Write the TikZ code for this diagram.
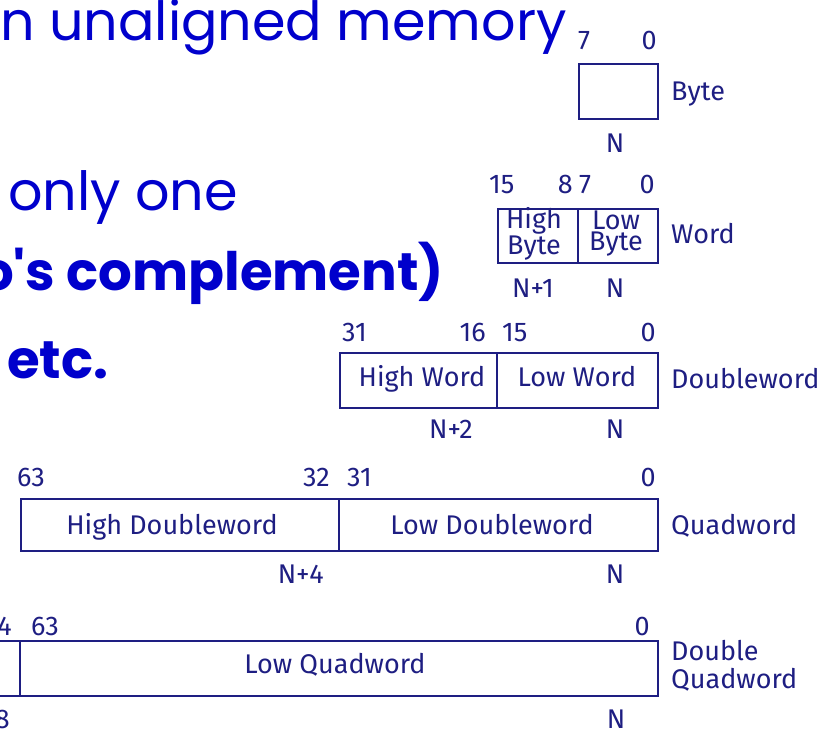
\documentclass[tikz,border=0pt]{standalone}
\usepackage{fontspec}
\setmainfont{Fira Sans}
\newfontfamily\slidefont{Poppins}
\definecolor{navy}{RGB}{30,30,130}
\definecolor{slideblue}{RGB}{0,0,204}

\tikzset{
  field/.style={draw=navy, line width=1.6pt, rectangle, inner sep=0pt, anchor=north west},
  divider/.style={draw=navy, line width=1.6pt},
  lbl/.style={text=navy, inner sep=0pt, font=\fontsize{27}{28}\selectfont},
  inner/.style={lbl, align=center, font=\fontsize{27}{21}\selectfont},
  slide/.style={text=slideblue, inner sep=0pt, anchor=base west, font=\slidefont\fontsize{54}{60}\selectfont},
  slidebold/.style={slide, font=\slidefont\bfseries\fontsize{53}{60}\selectfont}
}

\begin{document}
\begin{tikzpicture}[x=1pt, y=-1pt]
\useasboundingbox (0,0) rectangle (837,736);
\clip (0,0) rectangle (837,736);

% slide text on the left
\node[slide] (t1) at (0,40) {n unaligned memory};
\node[slide] (t2) at (8,210) {only one};
\node[slidebold] (t3) at (-20,290) {o's complement)};
\node[slidebold] (t4) at (7,378) {etc.};

% Byte
\node[field, minimum width=79pt, minimum height=55pt] (byte) at (578,63) {};
\node[lbl, anchor=base west] (b7) at (578,49) {7};
\node[lbl, anchor=base east] (b0) at (657,49) {0};
\node[lbl, anchor=base west] (bname) at (671,100) {Byte};
\node[lbl, anchor=base] (bN) at (615,152) {N};

% Word
\node[field, minimum width=160pt, minimum height=54pt] (word) at (497,208) {};
\draw[divider] (word.north west) ++(81,0) coordinate (wdt) -- (word.south west -| wdt) coordinate (wdb);
\node[inner] (whi) at (534,234) {High\\Byte};
\node[inner] (wlo) at (616,234) {Low\\Byte};
\node[lbl, anchor=base west] (w15) at (489,193) {15};
\node[lbl, anchor=base east] (w8) at (573,193) {8};
\node[lbl, anchor=base west] (w7) at (579,193) {7};
\node[lbl, anchor=base east] (w0) at (655,193) {0};
\node[lbl, anchor=base west] (wname) at (671,243) {Word};
\node[lbl, anchor=base] (wN1) at (533,297) {N+1};
\node[lbl, anchor=base] (wN) at (615,297) {N};

% Doubleword
\node[field, minimum width=318pt, minimum height=55pt] (dword) at (339,352) {};
\draw[divider] (dword.north west) ++(158,0) coordinate (ddt) -- (dword.south west -| ddt) coordinate (ddb);
\node[lbl, anchor=base] (dhi) at (422,386) {High Word};
\node[lbl, anchor=base] (dlo) at (577,386) {Low Word};
\node[lbl, anchor=base west] (d31) at (342,341) {31};
\node[lbl, anchor=base east] (d16) at (486,341) {16};
\node[lbl, anchor=base west] (d15) at (502,341) {15};
\node[lbl, anchor=base east] (d0) at (656,341) {0};
\node[lbl, anchor=base west] (dname) at (671,388) {Doubleword};
\node[lbl, anchor=base] (dN2) at (451,438) {N+2};
\node[lbl, anchor=base] (dN) at (615,438) {N};

% Quadword
\node[field, minimum width=637pt, minimum height=52pt] (qword) at (20,498) {};
\draw[divider] (qword.north west) ++(319,0) coordinate (qdt) -- (qword.south west -| qdt) coordinate (qdb);
\node[lbl, anchor=base] (qhi) at (172,534) {High Doubleword};
\node[lbl, anchor=base] (qlo) at (492,534) {Low Doubleword};
\node[lbl, anchor=base west] (q63) at (17,486) {63};
\node[lbl, anchor=base east] (q32) at (330,486) {32};
\node[lbl, anchor=base west] (q31) at (347,486) {31};
\node[lbl, anchor=base east] (q0) at (656,486) {0};
\node[lbl, anchor=base west] (qname) at (671,534) {Quadword};
\node[lbl, anchor=base east] (qN4) at (324,583) {N+4};
\node[lbl, anchor=base] (qN) at (615,583) {N};

% Double Quadword (high half runs off to the left)
\node[field, minimum width=677pt, minimum height=55pt] (dqword) at (-20,640) {};
\draw[divider] (dqword.north west) ++(40,0) coordinate (xdt) -- (dqword.south west -| xdt) coordinate (xdb);
\node[lbl, anchor=base] (xlo) at (335,673) {Low Quadword};
\node[lbl, anchor=base east] (x64) at (12,635) {4};
\node[lbl, anchor=base west] (x63) at (31,635) {63};
\node[lbl, anchor=base east] (x0) at (650,635) {0};
\node[lbl, anchor=base west, align=left, font=\fontsize{27}{28}\selectfont] (xname) at (671,688) {Double\\Quadword};
\node[lbl, anchor=base east] (xN8) at (10,728) {8};
\node[lbl, anchor=base] (xN) at (616,728) {N};
\end{tikzpicture}
\end{document}
